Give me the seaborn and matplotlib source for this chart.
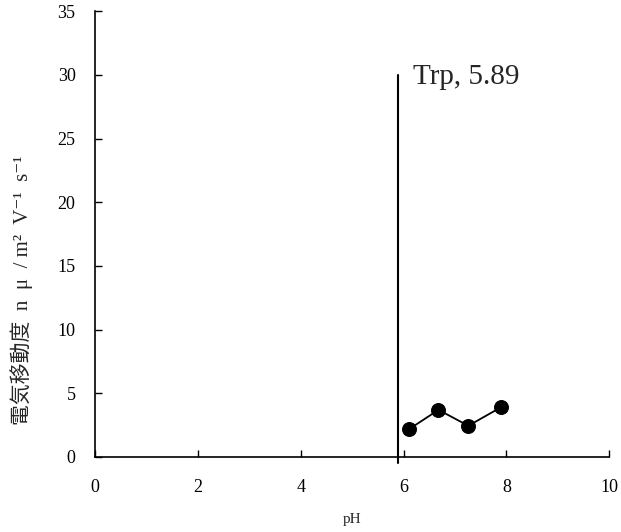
import matplotlib
matplotlib.use("Agg")
import matplotlib.pyplot as plt
import seaborn as sns
import pandas as pd

ph = [6.11, 6.68, 7.26, 7.89]
mobility = [2.19, 3.70, 2.45, 3.89]
pi_value = 5.89
pi_label = "Trp, 5.89"
x_ticks = [0, 2, 4, 6, 8, 10]
y_ticks = [0, 5, 10, 15, 20, 25, 30, 35]
x_label = "pH"
y_label = "電気移動度  n  μ  / m²  V⁻¹  s⁻¹"

sns.set_style("ticks")
plt.rcParams["font.family"] = ["Liberation Serif", "Noto Sans CJK JP", "DejaVu Sans"]
plt.rcParams["xtick.direction"] = "in"
plt.rcParams["ytick.direction"] = "in"

df = pd.DataFrame({"pH": ph, "mob": mobility})

fig = plt.figure(figsize=(6.21, 5.32), dpi=100)
ax = fig.add_axes([0.153, 0.141, 0.828, 0.838])
sns.lineplot(data=df, x="pH", y="mob", ax=ax, color="black", marker="o",
             markersize=10, markeredgecolor="black", linewidth=1.3)
ax.plot([pi_value, pi_value], [-0.5, 30], color="black", linewidth=1.5, clip_on=False)
ax.text(pi_value + 0.3, 29.8, pi_label, fontsize=21, va="center", ha="left")

ax.set_xlim(0, 10)
ax.set_ylim(0, 35)
ax.set_xticks(x_ticks)
ax.set_yticks(y_ticks)
ax.tick_params(labelsize=13, length=5, width=1, colors="black")
ax.tick_params(axis="x", pad=16)
ax.tick_params(axis="y", pad=14)
sns.despine(ax=ax)
for s in ["left", "bottom"]:
    ax.spines[s].set_linewidth(1.2)
    ax.spines[s].set_color("black")
ax.set_xlabel(x_label, fontsize=11, labelpad=12)
ax.set_ylabel(y_label, fontsize=15)
ax.yaxis.set_label_coords(-0.12, 0.373)
fig.savefig("out.png", dpi=100)
